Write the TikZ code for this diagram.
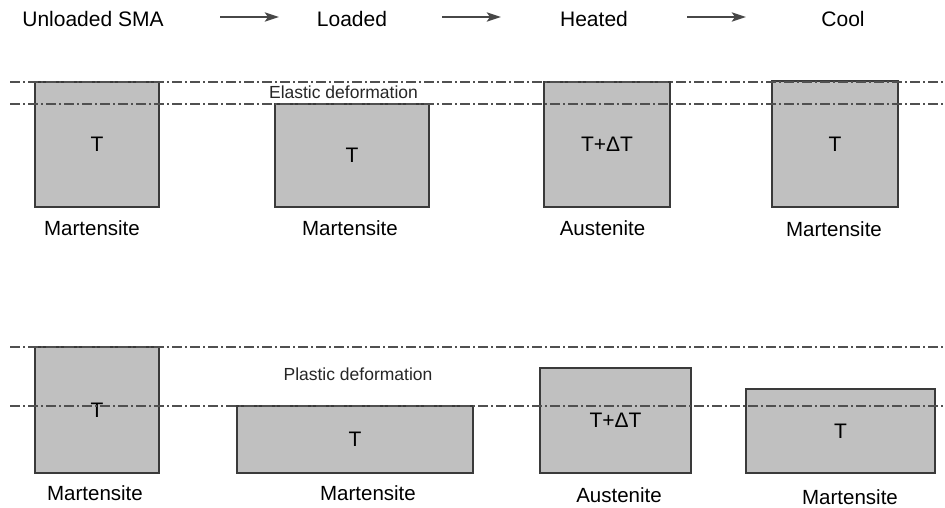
\documentclass[tikz,border=0pt]{standalone}
\usepackage{fontspec}
\setmainfont{Liberation Sans}
\usetikzlibrary{arrows.meta}
\definecolor{boxfill}{HTML}{C0C0C0}
\definecolor{boxline}{HTML}{3A3A3A}
\definecolor{refline}{HTML}{505050}
\begin{document}
\begin{tikzpicture}[x=1pt,y=-1pt,
  smabox/.style={draw=boxline,line width=1.2pt,fill=boxfill,inner sep=0pt,
    font=\fontsize{21}{24}\selectfont},
  head/.style={font=\fontsize{21}{24}\selectfont,inner sep=0pt},
  phase/.style={font=\fontsize{20.5}{24}\selectfont,inner sep=0pt},
  deform/.style={font=\fontsize{17.5}{20}\selectfont,inner sep=0pt,text=black!85},
  refl/.style={draw=refline,line width=1.3pt,dash pattern=on 10pt off 3pt on 2pt off 3pt},
  flow/.style={draw=black!72,line width=2.8pt,-{Stealth[length=14pt,width=9pt,inset=3pt,fill=black]}}]
\useasboundingbox (0,0) rectangle (945,508);
% header
\node[head] (h1) at (93,19) {Unloaded SMA};
\node[head] (h2) at (352,19) {Loaded};
\node[head] (h3) at (594,19) {Heated};
\node[head] (h4) at (843,19) {Cool};
\coordinate (a1s) at (220,17); \coordinate (a1e) at (279,17);
\coordinate (a2s) at (442,17); \coordinate (a2e) at (501,17);
\coordinate (a3s) at (687,17); \coordinate (a3e) at (746,17);
\draw[flow] (a1s) -- (a1e);
\draw[flow] (a2s) -- (a2e);
\draw[flow] (a3s) -- (a3e);
% top row boxes
\node[smabox,minimum width=124pt,minimum height=125pt] (t1) at (97,144.5) {T};
\node[smabox,minimum width=154pt,minimum height=103pt] (t2) at (352,155.5) {T};
\node[smabox,minimum width=126pt,minimum height=125pt] (t3) at (607,144.5) {T+ΔT};
\node[smabox,minimum width=126pt,minimum height=126pt] (t4) at (835,144) {T};
\node[phase] (tl1) at (92,228) {Martensite};
\node[phase] (tl2) at (350,228) {Martensite};
\node[phase] (tl3) at (602.5,228) {Austenite};
\node[phase] (tl4) at (834,229) {Martensite};
\node[deform] (ed) at (343.5,92) {Elastic deformation};
% bottom row boxes
\node[smabox,minimum width=124pt,minimum height=126pt] (b1) at (97,410) {T};
\node[smabox,minimum width=236pt,minimum height=67pt] (b2) at (355,439.5) {T};
\node[smabox,minimum width=151pt,minimum height=105pt] (b3) at (615.5,420.5) {T+ΔT};
\node[smabox,minimum width=189pt,minimum height=84pt] (b4) at (840.5,431) {T};
\node[phase] (bl1) at (95,493) {Martensite};
\node[phase] (bl2) at (368,493) {Martensite};
\node[phase] (bl3) at (619,495) {Austenite};
\node[phase] (bl4) at (850,497) {Martensite};
\node[deform] (pd) at (358,374) {Plastic deformation};
% reference lines
\coordinate (l1s) at (10,82);  \coordinate (l1e) at (945,82);
\coordinate (l2s) at (10,104); \coordinate (l2e) at (945,104);
\coordinate (l3s) at (10,347); \coordinate (l3e) at (945,347);
\coordinate (l4s) at (10,406); \coordinate (l4e) at (945,406);
\draw[refl] (l1s) -- (l1e);
\draw[refl] (l2s) -- (l2e);
\draw[refl] (l3s) -- (l3e);
\draw[refl] (l4s) -- (l4e);
\end{tikzpicture}
\end{document}
